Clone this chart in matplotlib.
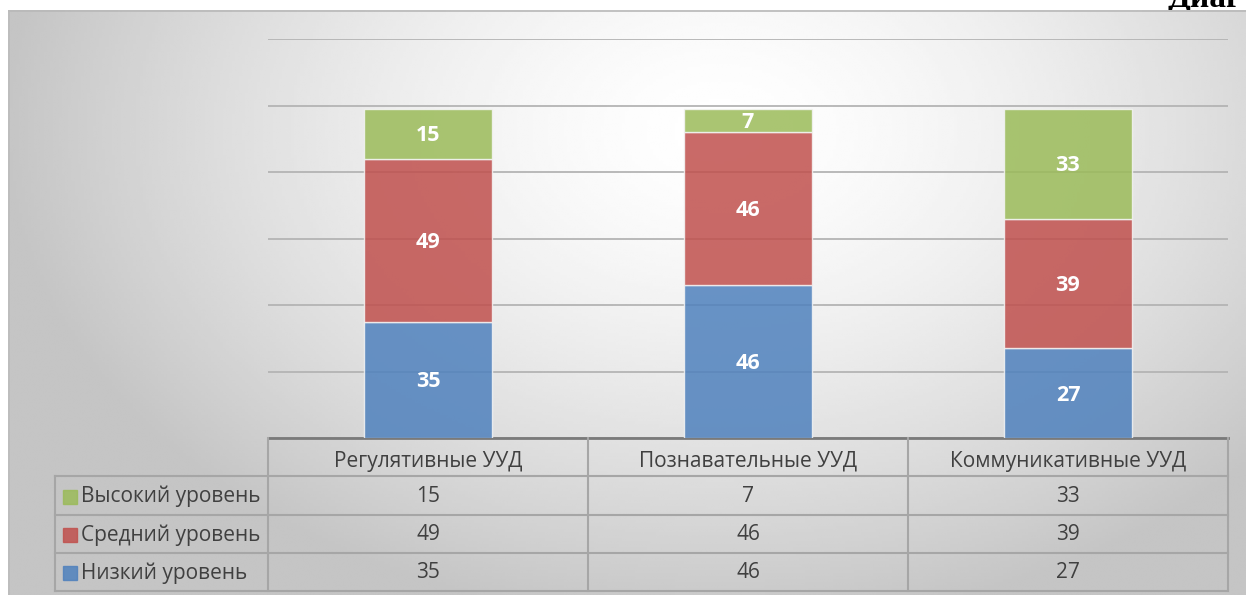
import numpy as np
import matplotlib
matplotlib.use('Agg')
import matplotlib.pyplot as plt
from matplotlib.patches import Rectangle

plt.rcParams['font.family'] = ['Open Sans', 'DejaVu Sans']

# data
categories = ['Регулятивные УУД', 'Познавательные УУД', 'Коммуникативные УУД']
series_names = ['Низкий уровень', 'Средний уровень', 'Высокий уровень']
low = [35, 46, 27]
mid = [49, 46, 39]
high = [15, 7, 33]
series = [low, mid, high]
colors = ['#4F81BD', '#C0504D', '#9BBB59']

W, H = 1246, 595
fig = plt.figure(figsize=(W / 100, H / 100), dpi=100)

# heading text that the chart frame cuts off
fig.text(1167 / W, 1 - 7 / H, 'Диаг', fontsize=24, fontweight='bold',
         family='Liberation Serif', ha='left', va='baseline', color='black', zorder=0)

# gradient background
bg = fig.add_axes([8 / W, 0, 1 - 8 / W, (H - 10) / H], zorder=1)
xs = np.linspace(8, W, 400)
ys = np.linspace(10, H, 200)
X, Y = np.meshgrid(xs, ys)
r = np.sqrt(((X - 720) / 720) ** 2 + ((Y - 130) / 500) ** 2)
v = 1 - 0.23 * np.clip(r, 0, 1) ** 1.5
bg.imshow(v, cmap='gray', vmin=0, vmax=1, aspect='auto',
          extent=[8, W, H, 10], interpolation='bilinear')
bg.set_xlim(8, W)
bg.set_ylim(H, 10)
bg.axis('off')
bg.plot([8, W], [10.5, 10.5], color='#b8b8b8', lw=1.2)
bg.plot([8.5, 8.5], [10, H], color='#bcbcbc', lw=1.2)

# stacked bars
ax = fig.add_axes([268 / W, (H - 438) / H, 960 / W, (438 - 39) / H], zorder=2)
ax.patch.set_alpha(0)
x = np.arange(len(categories))
bottom = np.zeros(len(categories))
for vals, col in zip(series, colors):
    bars = ax.bar(x, vals, width=0.4, bottom=bottom, color=col, alpha=0.85,
                  edgecolor='#f4f4f4', linewidth=1, zorder=3)
    for b, val in zip(bars, vals):
        ax.text(b.get_x() + b.get_width() / 2, b.get_y() + b.get_height() / 2 - 0.6,
                str(val), ha='center', va='center', color='white',
                fontsize=15.5, fontweight='bold', zorder=4)
    bottom += np.array(vals)

ax.set_xlim(-0.5, len(categories) - 0.5)
ax.set_ylim(0, 120)
ax.set_yticks(range(0, 121, 20))
ax.set_xticks([])
ax.tick_params(left=False, labelleft=False)
ax.yaxis.grid(True, color='#b4b4b4', lw=1.3, zorder=1)
ax.set_axisbelow(True)
for s in ['top', 'right', 'left']:
    ax.spines[s].set_visible(False)
ax.spines['bottom'].set_color('#7a7a7a')
ax.spines['bottom'].set_linewidth(2)

# data table under the chart
tb = fig.add_axes([0, 0, 1, 1], zorder=3)
tb.patch.set_alpha(0)
tb.set_xlim(0, W)
tb.set_ylim(H, 0)
tb.axis('off')

col_x = [268, 588, 908, 1228]
row_y = [438, 476, 515, 553, 591]
lab_x = 55
line_c = '#a6a6a6'
txt_c = '#404040'

for cx in col_x:
    tb.plot([cx, cx], [row_y[0], row_y[-1]], color=line_c, lw=1.5)
tb.plot([lab_x, lab_x], [row_y[1], row_y[-1]], color=line_c, lw=1.5)
for ry in row_y[1:]:
    tb.plot([lab_x, col_x[-1]], [ry, ry], color=line_c, lw=1.5)

for i, cat in enumerate(categories):
    tb.text((col_x[i] + col_x[i + 1]) / 2, (row_y[0] + row_y[1]) / 2 + 4, cat,
            ha='center', va='center', fontsize=15, color=txt_c)

table_order = [2, 1, 0]
for j, si in enumerate(table_order):
    yc = (row_y[j + 1] + row_y[j + 2]) / 2 + 1
    tb.add_patch(Rectangle((63, yc - 7), 14, 14, color=colors[si], alpha=0.85))
    tb.text(81, yc, series_names[si], ha='left', va='center', fontsize=15, color=txt_c)
    for i in range(len(categories)):
        tb.text((col_x[i] + col_x[i + 1]) / 2, yc, str(series[si][i]),
                ha='center', va='center', fontsize=15, color=txt_c)

fig.savefig('out.png', dpi=100)
